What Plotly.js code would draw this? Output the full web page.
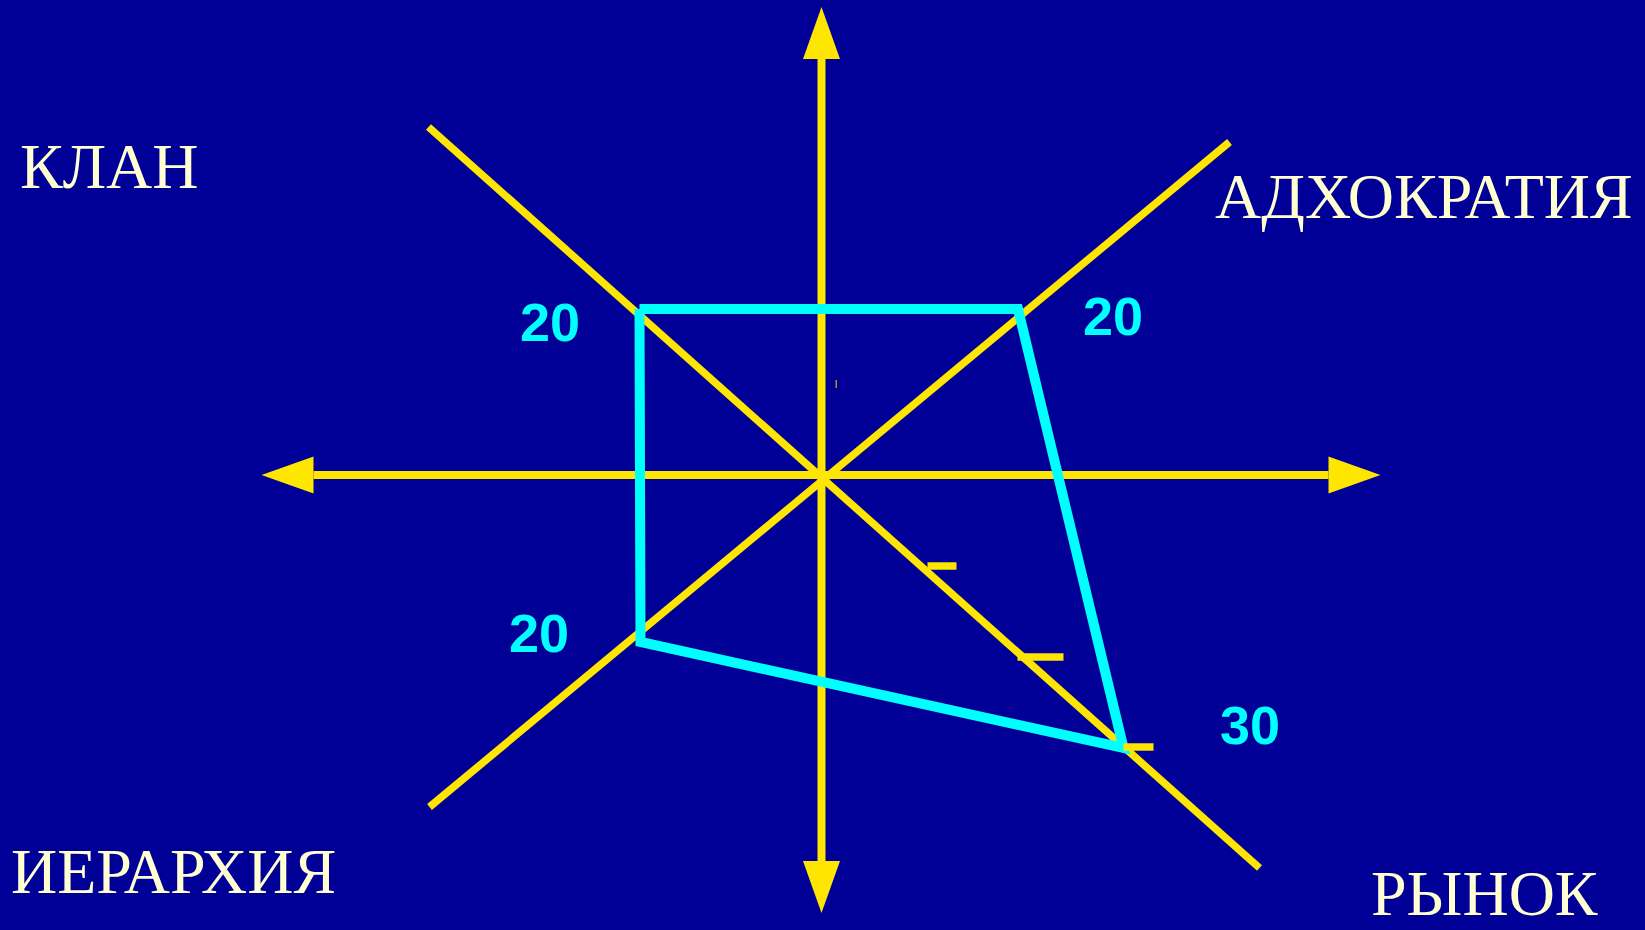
<!DOCTYPE html>
<html>
<head>
<meta charset="utf-8">
<script src="https://cdn.plot.ly/plotly-3.0.1.min.js"></script>
<style>
  body { margin: 0; background: #000096; }
  #plot { width: 1645px; height: 930px; }
</style>
</head>
<body>
<div id="plot"></div>
<script>
// diagram units: origin at the crossing, 1 unit ~ 10 px
const hAxisX = [-50.8, 50.7];
const vAxisY = [-38.7, 41.7];
const arrowTipsX = [-56.0, 55.9];
const arrowTipsY = [-43.8, 46.8];

const diagNWSE_X = [-39.3, 43.8];
const diagNWSE_Y = [34.8, -39.3];
const diagNESW_X = [40.8, -39.2];
const diagNESW_Y = [33.3, -33.2];

// profile of the organisation on the four culture types
const cultures = ["КЛАН", "АДХОКРАТИЯ", "РЫНОК", "ИЕРАРХИЯ"];
const scores = ["20", "20", "30", "20"];
const profileX = [-18.2, 19.65, 30.2, -18.1];
const profileY = [16.6, 16.6, -27.3, -16.7];

// scale marks on the market diagonal
const markX0 = [10.6, 19.6, 30.2];
const markX1 = [13.5, 24.2, 33.2];
const markY = [-9.1, -18.2, -27.2];

// label positions
const cultureX = [-80.4, 39.1, 54.7, -81.3];
const cultureY = [30.85, 27.85, -41.8, -39.6];
const scoreX = [-27.2, 29.1, 42.85, -28.3];
const scoreY = [15.3, 15.95, -24.95, -15.8];

const yellow = "#FFE600";
const cyan = "#00FFFF";
const bg = "#000096";

function seg(x, y, w, color) {
    return { x: x, y: y, type: "scatter", mode: "lines", hoverinfo: "skip",
             line: { color: color || yellow, width: w || 8 } };
}

function arrowHead(tipX, tipY, dx, dy) {
    // dx,dy: unit direction of the arrow; triangle 5.2 long, 3.7 wide
    const L = 5.2, H = 1.85;
    const bx = tipX - dx * L, by = tipY - dy * L;
    return {
        x: [tipX, bx - dy * H, bx + dy * H, tipX],
        y: [tipY, by + dx * H, by - dx * H, tipY],
        type: "scatter", mode: "lines", fill: "toself", hoverinfo: "skip",
        fillcolor: yellow, line: { color: yellow, width: 0 },
    };
}

const data = [
    seg(hAxisX, [0, 0]),
    seg([0, 0], vAxisY),
    seg(diagNWSE_X, diagNWSE_Y, 7.5),
    seg(diagNESW_X, diagNESW_Y, 7.5),
    arrowHead(arrowTipsX[0], 0, -1, 0),
    arrowHead(arrowTipsX[1], 0, 1, 0),
    arrowHead(0, arrowTipsY[0], 0, -1),
    arrowHead(0, arrowTipsY[1], 0, 1),
    seg([1.47, 1.47], [9.5, 8.7], 1.2, "#C8B400"),
    seg(profileX.concat([profileX[0]]), profileY.concat([profileY[0]]), 10, cyan),
];
markX0.forEach((x0, i) => data.push(seg([x0, markX1[i]], [markY[i], markY[i]], 7.5)));

const annotations = [];
cultures.forEach((c, i) => annotations.push({
    x: cultureX[i], y: cultureY[i], xref: "x", yref: "y",
    text: c, showarrow: false, xanchor: "left", yanchor: "middle",
    font: { family: "Liberation Serif, Times New Roman, serif", size: 64, color: "#FFFFD2" },
}));
scores.forEach((s, i) => annotations.push({
    x: scoreX[i], y: scoreY[i], xref: "x", yref: "y",
    text: "<b>" + s + "</b>", showarrow: false, xanchor: "center", yanchor: "middle",
    font: { family: "Liberation Sans, Arial, sans-serif", size: 54, color: cyan },
}));

const layout = {
    width: 1645,
    height: 930,
    margin: { l: 0, r: 0, t: 0, b: 0 },
    paper_bgcolor: bg,
    plot_bgcolor: bg,
    showlegend: false,
    xaxis: { range: [-82.15, 82.35], visible: false, fixedrange: true },
    yaxis: { range: [-45.5, 47.5], visible: false, fixedrange: true },
    annotations: annotations,
};

Plotly.newPlot(document.getElementById("plot"), data, layout, { displayModeBar: false, staticPlot: true });
</script>
</body>
</html>
